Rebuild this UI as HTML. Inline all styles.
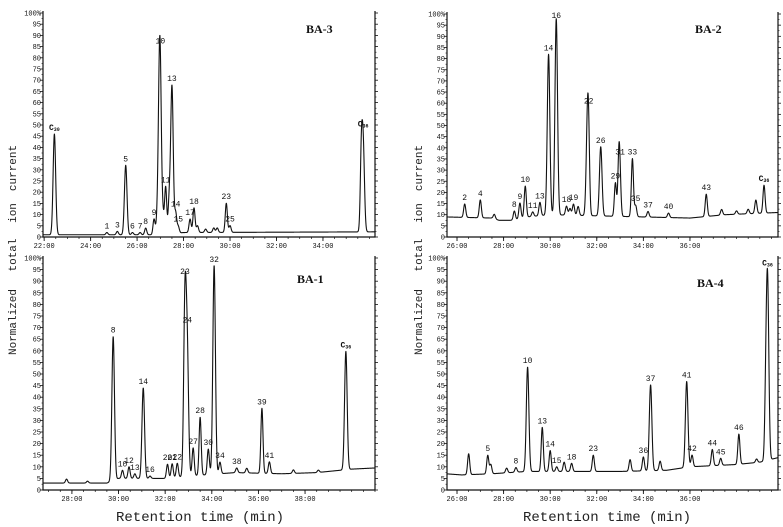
<!DOCTYPE html>
<html><head><meta charset="utf-8">
<style>
html,body{margin:0;padding:0;background:#fff;}
svg{display:block;}
.tk{font-family:"Liberation Mono",monospace;font-size:7px;fill:#111;}
.pl{font-family:"Liberation Mono",monospace;font-size:8px;fill:#111;}
.ttl{font-family:"Liberation Serif",serif;font-weight:bold;font-size:12px;fill:#111;}
.ax{font-family:"Liberation Mono",monospace;font-size:14px;fill:#222;}
.ay{font-family:"Liberation Mono",monospace;font-size:11px;fill:#222;}
</style></head>
<body>
<svg id="chart" width="783" height="527" viewBox="0 0 783 527"></svg>
<script>
// ---- BA-3 data ----
const ba3Times   = [22.44,24.7,25.15,25.51,25.8,26.13,26.37,26.73,26.86,26.96,27.0,27.12,27.23,27.38,27.5,27.66,27.77,28.28,28.45,28.6,28.95,29.3,29.45,29.84,30.0,35.65,35.73];
const ba3Heights = [45,1,1.5,31,1,1,3,7,5,50,45,7,21,14,66,9,3,6,11,3,1.5,2,2,13,3,30,39];
const ba3Labels  = ["C30","1","3","5","6","7","8","9","","","10","","11","","13","14","15","17","18","","","","","23","25","","C36"];
const ba3BaseT   = [21.9,27,28,36.3];
const ba3BaseV   = [1,1,2,2.3];
// ---- BA-2 data ----
const ba2Times   = [26.33,27.0,27.6,28.46,28.7,28.93,29.25,29.56,29.93,30.26,30.7,30.85,31.0,31.2,31.6,31.65,32.17,32.8,32.95,33.0,33.53,33.67,34.2,35.08,36.7,37.36,38.0,38.5,38.83,39.18];
const ba2Heights = [6,8,2,4,7,14,2,6,72,88,4,3,5,4,40,22,31,15,26,12,26,5,2.5,2,10,2.5,1.5,2,6,12.5];
const ba2Labels  = ["2","4","","8","9","10","11","13","14","16","18","","19","","","22","26","29","","31","33","35","37","40","43","","","","","C36"];
const ba2BaseT   = [25.5,27.5,27.8,28.4,29,30,34,36,37.5,39.8];
const ba2BaseV   = [9,8.5,7.5,7.5,9,10,9,8.5,10,11];
// ---- BA-1 data ----
const ba1Times   = [27.77,28.67,29.77,30.17,30.45,30.7,31.06,31.35,32.1,32.3,32.52,32.85,32.95,33.2,33.5,33.85,34.1,34.35,35.07,35.5,36.15,36.47,37.5,38.57,39.75];
const ba1Heights = [1.7,0.8,62,3.5,5,2,39,1,6,6,6,76,50,12,25,11,90,5,2,2,28,5,1.5,1,51];
const ba1Labels  = ["","","8","10","12","13","14","16","20","21","22","23","24","27","28","30","32","34","38","","39","41","","","C36"];
const ba1BaseT   = [26.7,29.5,30,32,33,35,37,38.5,40,41];
const ba1BaseV   = [3,3,5,5,6,7.5,7,7.5,9,9.5];
// ---- BA-4 data ----
const ba4Times   = [26.5,27.32,27.45,28.13,28.53,29.03,29.66,30.0,30.28,30.6,30.92,31.85,33.43,34.0,34.31,34.72,35.86,36.09,36.96,37.32,38.1,38.86,39.25,39.33];
const ba4Heights = [9,8,4,2,2,45,19,9,2,4,3.5,7,5,6,37,4,37,5,7,3,13,1.5,20,78];
const ba4Labels  = ["","5","","","8","10","13","14","15","","18","23","","36","37","","41","42","44","45","46","","","C36"];
const ba4BaseT   = [25.5,26.2,27.5,29,33,35,36,38,39,39.8];
const ba4BaseV   = [7,6.5,7,8,8,8.5,10,11,12,14];
// ---- axis tick labels ----
const yTickLabels = ["0","5","10","15","20","25","30","35","40","45","50","55","60","65","70","75","80","85","90","95","100%"];
const ba3XTicks = ["22:00","24:00","26:00","28:00","30:00","32:00","34:00"];
const ba2XTicks = ["26:00","28:00","30:00","32:00","34:00","36:00"];
const ba1XTicks = ["28:00","30:00","32:00","34:00","36:00","38:00"];
const ba4XTicks = ["26:00","28:00","30:00","32:00","34:00","36:00"];

const NS = "http://www.w3.org/2000/svg";
const svg = document.getElementById('chart');
function mk(tag, attrs, parent){
  const e = document.createElementNS(NS, tag);
  for (const k in attrs) e.setAttribute(k, attrs[k]);
  (parent||svg).appendChild(e);
  return e;
}
function interp(T, V, t){
  if (t <= T[0]) return V[0];
  for (let i=1;i<T.length;i++){ if (t<=T[i]) { const f=(t-T[i-1])/(T[i]-T[i-1]); return V[i-1]+f*(V[i]-V[i-1]); } }
  return V[V.length-1];
}
function tToMin(s){ const p=s.split(':'); return +p[0] + (+p[1])/60; }

function drawPanel(name, box, times, heights, labels, baseT, baseV, xTicks, title, titlePos){
  const g = mk('g', {});
  
  
  const {x0,x1,y0,y100,t0,t1} = box;
  const xs = t => x0 + (t - t0) / (t1 - t0) * (x1 - x0);
  const ys = v => y0 - v / 100 * (y0 - y100);
  const sig = h => h > 30 ? 0.055 : 0.045;
  const axes = mk('path', {d:`M${x0} ${y100-2}V${y0}H${x1}V${y100-2}`, fill:'none', stroke:'#111', 'stroke-width':1.2}, g);
  
  
  for (let i=0;i<yTickLabels.length;i++){
    const v = i*5, y = ys(v);
    mk('line', {x1:x0-3, x2:x0, y1:y, y2:y, stroke:'#111', 'stroke-width':0.8}, g);
    mk('line', {x1:x1, x2:x1+3, y1:y, y2:y, stroke:'#111', 'stroke-width':0.8}, g);
    if (i<20){ mk('line', {x1:x0-1.5, x2:x0, y1:ys(v+2.5), y2:ys(v+2.5), stroke:'#111', 'stroke-width':0.6}, g);
               mk('line', {x1:x1, x2:x1+1.5, y1:ys(v+2.5), y2:ys(v+2.5), stroke:'#111', 'stroke-width':0.6}, g); }
    const tl = mk('text', {x:x0-2, y:y+2.5, 'text-anchor':'end', class:'tk'}, g);
    tl.textContent = yTickLabels[i];
    
    
  }
  for (let t=Math.ceil(t0*2)/2; t<=t1; t+=0.5){
    mk('line', {x1:xs(t), x2:xs(t), y1:y0, y2:y0+2, stroke:'#111', 'stroke-width':0.7}, g);
  }
  for (const lab of xTicks){
    const t = tToMin(lab), x = xs(t);
    mk('line', {x1:x, x2:x, y1:y0, y2:y0+4, stroke:'#111', 'stroke-width':0.9}, g);
    const tl = mk('text', {x:x, y:y0+11, 'text-anchor':'middle', class:'tk'}, g);
    tl.textContent = lab;
    
    
  }
  const valAt = t => {
    let v = interp(baseT, baseV, t);
    for (let i=0;i<times.length;i++){
      const z = (t - times[i]) / sig(heights[i]);
      if (Math.abs(z) < 6) v += heights[i] * Math.exp(-0.5*z*z);
    }
    return Math.min(v, 101);
  };
  let d = '';
  for (let t=t0; t<=t1; t+=0.008){
    d += (d ? 'L' : 'M') + xs(t).toFixed(2) + ' ' + ys(valAt(t)).toFixed(2);
  }
  const tr = mk('path', {d:d, fill:'none', stroke:'#111', 'stroke-width':1.1, 'stroke-linejoin':'round'}, g);
  
  
  for (let i=0;i<times.length;i++){
    if (!labels[i]) continue;
    const v = valAt(times[i]);
    const y = Math.max(ys(Math.min(v,100)) - 4, y100 + 4);
    const tx = mk('text', {x:xs(times[i]), y:y, 'text-anchor':'middle', class:'pl'}, g);
    
    
    if (labels[i][0] === 'C'){
      tx.setAttribute('font-weight','bold');
      tx.setAttribute('font-family','Liberation Serif, serif');
      tx.textContent = 'C';
      const sub = mk('tspan', {'font-size':'5', dy:'1'}, tx);
      sub.textContent = labels[i].slice(1);
    } else tx.textContent = labels[i];
  }
  const tt = mk('text', {x:titlePos[0], y:titlePos[1], class:'ttl'}, g);
  tt.textContent = title;
  
  
}

drawPanel('ba3', {x0:43,x1:375,y0:237,y100:13,t0:21.95,t1:36.24}, ba3Times, ba3Heights, ba3Labels, ba3BaseT, ba3BaseV, ba3XTicks, 'BA-3', [306,33]);
drawPanel('ba2', {x0:447,x1:778,y0:237,y100:14,t0:25.57,t1:39.78}, ba2Times, ba2Heights, ba2Labels, ba2BaseT, ba2BaseV, ba2XTicks, 'BA-2', [695,33]);
drawPanel('ba1', {x0:43,x1:375,y0:490,y100:258,t0:26.76,t1:41.0}, ba1Times, ba1Heights, ba1Labels, ba1BaseT, ba1BaseV, ba1XTicks, 'BA-1', [297,283]);
drawPanel('ba4', {x0:447,x1:778,y0:490,y100:258,t0:25.57,t1:39.78}, ba4Times, ba4Heights, ba4Labels, ba4BaseT, ba4BaseV, ba4XTicks, 'BA-4', [697,287]);

function vtext(x, y, str, name){
  const t = mk('text', {x:x, y:y, class:'ay', transform:`rotate(-90 ${x} ${y})`, 'text-anchor':'middle'});
  t.textContent = str;
  
  
}
[[16,'left'],[422,'right']].forEach(([x,s])=>{
  vtext(x, 322, 'Normalized', s+'-y-title-normalized');
  vtext(x, 255, 'total', s+'-y-title-total');
  vtext(x, 213, 'ion', s+'-y-title-ion');
  vtext(x, 168, 'current', s+'-y-title-current');
});
[[200,'left'],[607,'right']].forEach(([x,s])=>{
  const t = mk('text', {x:x, y:521, class:'ax', 'text-anchor':'middle', 'xml:space':'preserve'});
  t.textContent = 'Retention   time   (min)';
  
  
});
</script>
</body></html>
